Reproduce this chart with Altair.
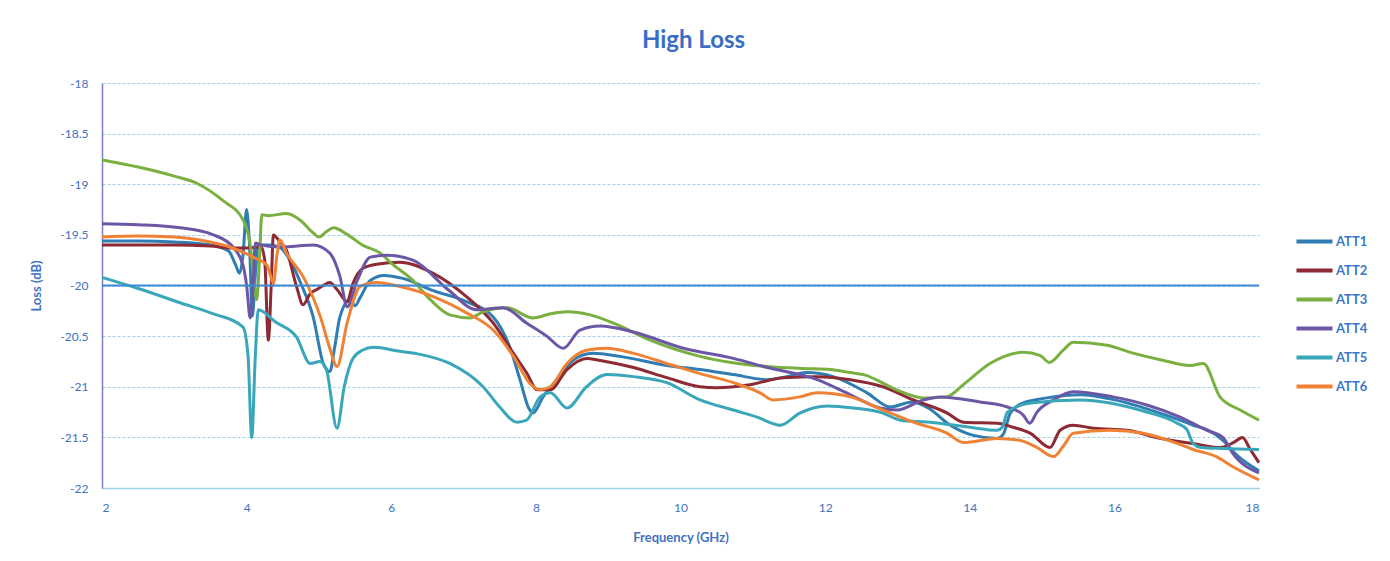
import altair as alt
import pandas as pd

series_names = ["ATT1", "ATT2", "ATT3", "ATT4", "ATT5", "ATT6"]
series_colors = ["#2f7db3", "#8e2a33", "#79b040", "#6c57a6", "#39a7b9", "#ef8235"]

att1_freq = [2.0, 2.5, 3.0, 3.5, 3.75, 3.85, 3.9, 3.95, 4.0, 4.04, 4.08, 4.12, 4.16, 4.3, 4.45, 4.6, 4.75,
             4.92, 5.06, 5.15, 5.22, 5.29, 5.43, 5.5, 5.57, 5.71, 5.9, 6.16, 6.58, 7.04, 7.41, 7.64, 7.78,
             7.9, 7.96, 8.1, 8.29, 8.51, 8.79, 9.16, 9.81, 10.27, 10.73, 11.2, 11.47, 11.75, 12.11, 12.58,
             12.9, 13.2, 13.45, 13.69, 14.05, 14.38, 14.47, 14.56, 14.74, 15.07, 15.53, 15.94, 16.63,
             16.87, 17.09, 17.3, 17.5, 17.7, 18.0]
att1_loss = [-19.56, -19.56, -19.57, -19.6, -19.66, -19.8, -19.88, -19.7, -19.25, -19.6, -20.3, -19.9, -19.6,
             -19.6, -19.62, -19.75, -19.98, -20.31, -20.77, -20.85, -20.6, -20.31, -20.14, -20.2, -20.12,
             -19.95, -19.9, -19.93, -20.05, -20.16, -20.31, -20.61, -20.93, -21.21, -21.26, -21.1, -20.93,
             -20.74, -20.67, -20.7, -20.79, -20.83, -20.88, -20.93, -20.9, -20.86, -20.9, -21.06, -21.2,
             -21.15, -21.22, -21.36, -21.48, -21.51, -21.46, -21.26, -21.16, -21.11, -21.08, -21.12, -21.26,
             -21.32, -21.38, -21.43, -21.53, -21.68, -21.83]

att2_freq = [2.0, 2.5, 3.0, 3.5, 3.8, 4.0, 4.2, 4.25, 4.3, 4.34, 4.37, 4.45, 4.55, 4.69, 4.78, 4.88, 4.97,
             5.06, 5.15, 5.25, 5.39, 5.47, 5.61, 5.8, 6.12, 6.58, 7.04, 7.41, 7.69, 7.87, 8.02, 8.2, 8.43,
             8.7, 8.89, 9.35, 9.81, 10.27, 10.5, 10.96, 11.42, 11.89, 12.35, 12.8, 13.22, 13.69, 13.91,
             14.38, 14.6, 14.84, 15.11, 15.25, 15.43, 15.71, 16.18, 16.63, 17.09, 17.46, 17.65, 17.77,
             17.88, 18.0]
att2_loss = [-19.6, -19.6, -19.6, -19.61, -19.63, -19.63, -19.62, -19.75, -20.54, -20.0, -19.5, -19.56,
             -19.65, -20.01, -20.19, -20.08, -20.04, -20.0, -19.97, -20.04, -20.16, -19.98, -19.83, -19.79,
             -19.77, -19.88, -20.11, -20.37, -20.67, -20.86, -21.03, -21.03, -20.83, -20.72, -20.74, -20.81,
             -20.91, -21.0, -21.01, -20.98, -20.91, -20.9, -20.93, -21.0, -21.13, -21.26, -21.35, -21.36,
             -21.4, -21.46, -21.6, -21.43, -21.38, -21.41, -21.43, -21.51, -21.56, -21.6, -21.55, -21.5,
             -21.62, -21.75]

att3_freq = [2.0, 2.5, 3.0, 3.31, 3.67, 3.95, 4.05, 4.1, 4.14, 4.18, 4.21, 4.3, 4.55, 4.75, 4.92, 5.0, 5.1,
             5.2, 5.4, 5.6, 5.85, 6.0, 6.3, 6.54, 6.81, 7.09, 7.27, 7.6, 7.96, 8.2, 8.43, 8.75, 9.1, 9.58,
             10.27, 10.7, 11.2, 11.7, 12.07, 12.35, 12.53, 12.99, 13.36, 13.68, 13.91, 14.28, 14.74, 14.97,
             15.1, 15.29, 15.43, 15.9, 16.22, 16.68, 17.05, 17.23, 17.46, 17.74, 18.0]
att3_loss = [-18.76, -18.83, -18.92, -18.99, -19.16, -19.35, -19.6, -19.95, -20.14, -19.7, -19.3, -19.31,
             -19.29, -19.36, -19.48, -19.52, -19.47, -19.43, -19.5, -19.6, -19.68, -19.78, -19.95, -20.14,
             -20.29, -20.32, -20.26, -20.22, -20.32, -20.28, -20.26, -20.29, -20.38, -20.54, -20.7, -20.76,
             -20.8, -20.82, -20.83, -20.86, -20.88, -21.03, -21.11, -21.1, -20.98, -20.77, -20.66, -20.69,
             -20.76, -20.64, -20.56, -20.59, -20.66, -20.74, -20.79, -20.77, -21.1, -21.23, -21.33]

att4_freq = [2.0, 2.5, 3.08, 3.54, 3.81, 3.95, 4.0, 4.05, 4.09, 4.12, 4.2, 4.46, 4.7, 4.92, 5.15, 5.29, 5.39,
             5.53, 5.71, 5.94, 6.3, 6.8, 7.18, 7.55, 7.87, 8.15, 8.38, 8.61, 8.89, 9.35, 10.04, 10.73, 11.2,
             11.89, 12.35, 12.76, 12.99, 13.36, 13.59, 14.14, 14.52, 14.74, 14.83, 14.93, 15.16, 15.43,
             15.98, 16.45, 16.91, 17.28, 17.5, 17.64, 18.0]
att4_loss = [-19.39, -19.4, -19.43, -19.5, -19.62, -19.8, -20.0, -20.32, -20.0, -19.58, -19.6, -19.62,
             -19.61, -19.6, -19.68, -19.91, -20.21, -19.95, -19.72, -19.7, -19.75, -20.05, -20.24, -20.22,
             -20.37, -20.5, -20.62, -20.44, -20.4, -20.46, -20.62, -20.72, -20.81, -20.93, -21.08, -21.21,
             -21.23, -21.13, -21.1, -21.15, -21.2, -21.28, -21.36, -21.25, -21.13, -21.05, -21.1, -21.18,
             -21.3, -21.43, -21.5, -21.66, -21.85]

att5_freq = [2.0, 2.5, 3.08, 3.5, 3.95, 4.02, 4.07, 4.12, 4.16, 4.4, 4.69, 4.88, 5.01, 5.1, 5.25, 5.35,
             5.47, 5.6, 5.75, 6.12, 6.4, 6.81, 7.27, 7.5, 7.74, 7.87, 8.06, 8.2, 8.43, 8.7, 8.98, 9.35, 9.81,
             10.27, 10.73, 11.06, 11.38, 11.65, 12.03, 12.39, 12.8, 13.04, 13.45, 14.0, 14.38, 14.45, 14.52,
             14.84, 15.53, 15.94, 16.4, 16.87, 17.0, 17.09, 17.2, 17.5, 18.0]
att5_loss = [-19.92, -20.03, -20.17, -20.27, -20.41, -20.7, -21.5, -20.7, -20.24, -20.36, -20.51, -20.77,
             -20.75, -20.82, -21.41, -21.0, -20.72, -20.64, -20.61, -20.65, -20.68, -20.77, -21.0, -21.2,
             -21.35, -21.33, -21.1, -21.06, -21.21, -21.0, -20.88, -20.9, -20.96, -21.13, -21.23, -21.3,
             -21.38, -21.26, -21.19, -21.21, -21.26, -21.33, -21.35, -21.4, -21.43, -21.4, -21.25, -21.16,
             -21.13, -21.16, -21.24, -21.36, -21.42, -21.56, -21.6, -21.61, -21.62]

att6_freq = [2.0, 2.5, 3.0, 3.5, 3.77, 4.09, 4.28, 4.33, 4.37, 4.42, 4.46, 4.55, 4.78, 5.02, 5.15, 5.25, 5.39,
             5.57, 5.8, 6.12, 6.58, 7.04, 7.41, 7.69, 7.92, 8.06, 8.2, 8.43, 8.7, 8.98, 9.35, 9.81, 10.27,
             10.73, 11.1, 11.28, 11.65, 11.89, 12.35, 12.8, 13.04, 13.22, 13.69, 13.91, 14.38, 14.7, 14.93,
             15.16, 15.3, 15.43, 15.94, 16.4, 16.87, 17.09, 17.41, 17.64, 18.0]
att6_loss = [-19.52, -19.51, -19.52, -19.57, -19.62, -19.72, -19.8, -19.9, -19.98, -19.7, -19.55, -19.68,
             -19.91, -20.31, -20.62, -20.8, -20.37, -20.01, -19.97, -20.01, -20.11, -20.27, -20.44, -20.7,
             -20.97, -21.03, -21.0, -20.77, -20.64, -20.62, -20.67, -20.77, -20.87, -20.96, -21.06, -21.13,
             -21.1, -21.06, -21.1, -21.23, -21.3, -21.35, -21.46, -21.55, -21.51, -21.53, -21.6, -21.69,
             -21.58, -21.46, -21.43, -21.46, -21.56, -21.62, -21.69, -21.79, -21.92]

x_ticks = [2, 4, 6, 8, 10, 12, 14, 16, 18]
y_ticks = [-22, -21.5, -21, -20.5, -20, -19.5, -19, -18.5, -18]
ref_level = [-20]

freqs = [att1_freq, att2_freq, att3_freq, att4_freq, att5_freq, att6_freq]
losses = [att1_loss, att2_loss, att3_loss, att4_loss, att5_loss, att6_loss]
rows = []
for name, fs, ls in zip(series_names, freqs, losses):
    for i, (f, l) in enumerate(zip(fs, ls)):
        rows.append({"series": name, "freq": f, "loss": l, "idx": i})
df = pd.DataFrame(rows)

FONT = "Lato"
BLUE = "#4272c0"

x_enc = alt.X("freq:Q", title="Frequency (GHz)",
              scale=alt.Scale(domain=[2, 18], nice=False, zero=False),
              axis=alt.Axis(values=x_ticks, grid=False, ticks=False, labelPadding=14,
                            domainColor="#9fd2ea", domainWidth=1.5, titlePadding=18))
y_enc = alt.Y("loss:Q", title="Loss (dB)",
              scale=alt.Scale(domain=[-22, -18], nice=False, zero=False),
              axis=alt.Axis(values=y_ticks, grid=True, gridColor="#9fd2ea", gridDash=[3, 2],
                            gridWidth=1.2, ticks=False, labelPadding=14,
                            labelExpr="toString(datum.value)",
                            domainColor="#7a7fc4", domainWidth=1.5, titlePadding=16))

ref = alt.Chart(pd.DataFrame({"loss": ref_level})).mark_rule(
    color="#3f8ad2", strokeWidth=1.8
).encode(y=alt.Y("loss:Q", scale=alt.Scale(domain=[-22, -18], nice=False, zero=False)))

lines = alt.Chart(df).mark_line(strokeWidth=3, interpolate="monotone").encode(
    x=x_enc,
    y=y_enc,
    color=alt.Color("series:N", scale=alt.Scale(domain=series_names, range=series_colors),
                    legend=alt.Legend(title=None, orient="none", legendX=1192, legendY=138,
                                      symbolType="stroke", symbolStrokeWidth=4, symbolSize=1300,
                                      rowPadding=-6, labelFontSize=13, labelColor="#3a78c8",
                                      labelFont=FONT, labelFontWeight="bold", labelOffset=1)),
    order="idx:Q",
)

chart = alt.layer(lines, ref).properties(
    width=1157, height=405,
    title=alt.TitleParams("High Loss", fontSize=24, font=FONT, fontWeight="bold", color="#3a6ec5",
                          anchor="middle", dx=13, offset=24),
    padding={"left": 94, "top": 75, "right": 123, "bottom": 65},
    autosize=alt.AutoSizeParams(type="none"),
).configure(
    background="white"
).configure_view(stroke=None).configure_axis(
    labelFont=FONT, titleFont=FONT, labelColor=BLUE, titleColor=BLUE,
    labelFontSize=12, titleFontSize=13, titleFontWeight="bold",
)

chart.save("out.html", embed_options={"renderer": "svg", "actions": False})
